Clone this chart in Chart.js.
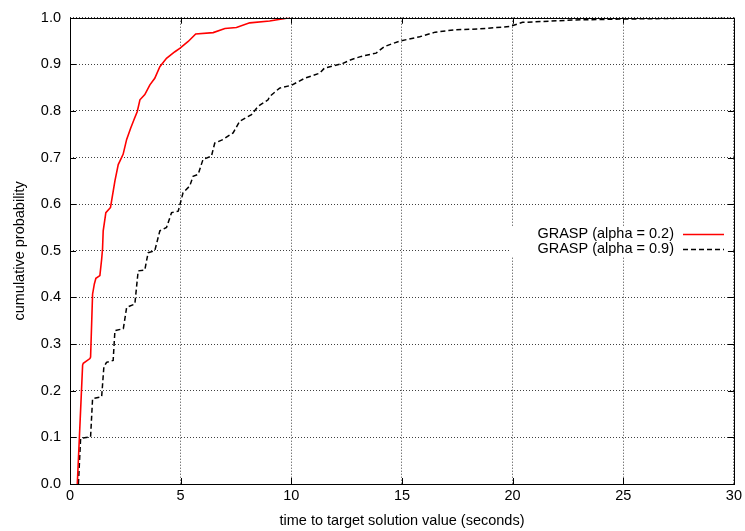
<!DOCTYPE html>
<html lang="en">

<head>
    <meta charset="UTF-8">
    <title>cumulative probability</title>
    <script src="https://cdn.jsdelivr.net/npm/chart.js@4.4.0/dist/chart.umd.min.js"></script>
    <style>
        * {
            margin: 0;
            padding: 0;
        }

        body {
            background: #fff;
        }

        #box {
            position: relative;
            width: 745px;
            height: 531px;
        }
    </style>
</head>

<body>
    <div id="box">
        <canvas id="ttt"></canvas>
    </div>

    <script>
        // time to target plot, two GRASP settings
        const xTicks = [0, 5, 10, 15, 20, 25, 30]
        const yTicks = [0, 0.1, 0.2, 0.3, 0.4, 0.5, 0.6, 0.7, 0.8, 0.9, 1.0]

        const legendNames = ["GRASP (alpha = 0.2)", "GRASP (alpha = 0.9)"]

        // alpha = 0.2
        const lowTime = [0.33, 0.57, 0.6, 0.9, 0.93, 1.02, 1.1, 1.17, 1.35, 1.43, 1.47, 1.5, 1.62, 1.83,
            2.03, 2.18, 2.4, 2.56, 2.74, 2.89, 3.04, 3.16, 3.38, 3.61, 3.83, 4.06, 4.36, 4.74, 4.96,
            5.34, 5.68, 6.47, 7.0, 7.52, 8.12, 9.02, 9.92]
        const lowProb = [0, 0.255, 0.259, 0.269, 0.272, 0.407, 0.429, 0.441, 0.447, 0.482, 0.504, 0.543, 0.582, 0.593,
            0.65, 0.685, 0.707, 0.739, 0.763, 0.781, 0.799, 0.824, 0.835, 0.856, 0.87, 0.895, 0.913, 0.927, 0.934,
            0.949, 0.965, 0.968, 0.977, 0.979, 0.989, 0.993, 1.0]

        // alpha = 0.9
        const highTime = [0.38, 0.48, 0.93, 1.02, 1.43, 1.53, 1.65, 1.95, 2.03, 2.41, 2.56, 2.93, 3.08, 3.38,
            3.53, 3.83, 4.06, 4.36, 4.59, 4.89, 5.11, 5.41, 5.56, 5.79, 6.01, 6.39, 6.54, 6.92, 7.37, 7.67,
            8.2, 8.5, 8.95, 9.02, 9.47, 10.0, 10.6, 11.28, 11.5, 12.33, 12.7, 13.16, 13.83, 14.2, 14.9,
            15.8, 16.5, 17.4, 18.5, 19.85, 20.45, 22.7, 24.8, 29.8]
        const highProb = [0, 0.098, 0.101, 0.183, 0.187, 0.251, 0.261, 0.265, 0.329, 0.333, 0.379, 0.386, 0.457, 0.459,
            0.496, 0.5, 0.543, 0.55, 0.582, 0.585, 0.625, 0.639, 0.66, 0.664, 0.696, 0.703, 0.731, 0.739, 0.753, 0.778,
            0.792, 0.81, 0.824, 0.831, 0.849, 0.855, 0.87, 0.881, 0.892, 0.902, 0.91, 0.917, 0.924, 0.938, 0.95,
            0.959, 0.969, 0.974, 0.976, 0.981, 0.99, 0.995, 0.997, 1.0]

        const fontFamily = "'Liberation Sans', Arial, sans-serif"
        const fontSize = 14.5

        function toPoints(xs, ys) {
            return xs.map((x, i) => ({ x: x, y: ys[i] }))
        }

        // gnuplot style frame with inward ticks on all four sides
        const framePlugin = {
            id: "frame",
            afterDraw(chart) {
                const { ctx, chartArea: a, scales } = chart
                const len = 6
                ctx.save()
                ctx.strokeStyle = "#000"
                ctx.lineWidth = 1
                ctx.beginPath()
                xTicks.forEach(v => {
                    const px = Math.round(scales.x.getPixelForValue(v)) + 0.5
                    ctx.moveTo(px, a.bottom)
                    ctx.lineTo(px, a.bottom - len)
                    ctx.moveTo(px, a.top)
                    ctx.lineTo(px, a.top + len)
                })
                yTicks.forEach(v => {
                    const py = Math.round(scales.y.getPixelForValue(v)) + 0.5
                    ctx.moveTo(a.left, py)
                    ctx.lineTo(a.left + len, py)
                    ctx.moveTo(a.right, py)
                    ctx.lineTo(a.right - len, py)
                })
                ctx.stroke()
                ctx.strokeRect(Math.round(a.left) + 0.5, Math.round(a.top) + 0.5,
                    Math.round(a.right - a.left), Math.round(a.bottom - a.top))
                ctx.restore()
            }
        }

        // key box inside the plot, text right aligned with the line sample after it
        const keyPlugin = {
            id: "key",
            beforeDatasetsDraw(chart) {
                const ctx = chart.ctx
                const textRight = 674
                const lineX0 = 683
                const lineX1 = 724
                const rowY = [234, 249]
                ctx.save()
                ctx.fillStyle = "#fff"
                ctx.fillRect(510, 227, 223, 29)
                ctx.font = fontSize + "px " + fontFamily
                ctx.textAlign = "right"
                ctx.textBaseline = "middle"
                chart.data.datasets.forEach((ds, i) => {
                    ctx.fillStyle = "#000"
                    ctx.fillText(legendNames[i], textRight, rowY[i])
                    ctx.strokeStyle = ds.borderColor
                    ctx.lineWidth = ds.borderWidth
                    ctx.setLineDash(ds.borderDash || [])
                    ctx.beginPath()
                    ctx.moveTo(lineX0, rowY[i] + 0.5)
                    ctx.lineTo(lineX1, rowY[i] + 0.5)
                    ctx.stroke()
                })
                ctx.restore()
            }
        }

        const gridStyle = {
            color: "rgba(0, 0, 0, 0.75)",
            lineWidth: 1,
            drawTicks: false,
            tickBorderDash: [1, 2]
        }

        new Chart(document.getElementById("ttt"), {
            type: "line",
            data: {
                datasets: [
                    {
                        label: legendNames[0],
                        data: toPoints(lowTime, lowProb),
                        borderColor: "#ff0000",
                        borderWidth: 1.6,
                        pointRadius: 0,
                        tension: 0,
                        fill: false
                    },
                    {
                        label: legendNames[1],
                        data: toPoints(highTime, highProb),
                        borderColor: "#000000",
                        borderWidth: 1.5,
                        borderDash: [5, 3],
                        pointRadius: 0,
                        tension: 0,
                        fill: false
                    }
                ]
            },
            options: {
                responsive: true,
                maintainAspectRatio: false,
                animation: false,
                layout: {
                    padding: { top: 16, right: 10, left: 0, bottom: 0 }
                },
                plugins: {
                    legend: { display: false },
                    tooltip: { enabled: false }
                },
                scales: {
                    x: {
                        type: "linear",
                        min: 0,
                        max: 30,
                        afterBuildTicks: s => { s.ticks = xTicks.map(v => ({ value: v })) },
                        afterFit: s => { s.height = 47 },
                        border: { display: false, dash: [1, 2] },
                        grid: gridStyle,
                        ticks: {
                            color: "#000",
                            padding: 3,
                            maxRotation: 0,
                            font: { family: fontFamily, size: fontSize }
                        },
                        title: {
                            display: true,
                            text: "time to target solution value (seconds)",
                            color: "#000",
                            padding: { top: 0, bottom: 1 },
                            font: { family: fontFamily, size: fontSize }
                        }
                    },
                    y: {
                        type: "linear",
                        min: 0,
                        max: 1,
                        afterBuildTicks: s => { s.ticks = yTicks.map(v => ({ value: v })) },
                        afterFit: s => { s.width = 70 },
                        border: { display: false, dash: [1, 2] },
                        grid: gridStyle,
                        ticks: {
                            color: "#000",
                            padding: 9,
                            font: { family: fontFamily, size: fontSize },
                            callback: v => v.toFixed(1)
                        },
                        title: {
                            display: true,
                            text: "cumulative probability",
                            color: "#000",
                            padding: { top: 11, bottom: 0 },
                            font: { family: fontFamily, size: fontSize }
                        }
                    }
                }
            },
            plugins: [keyPlugin, framePlugin]
        })
    </script>
</body>

</html>
